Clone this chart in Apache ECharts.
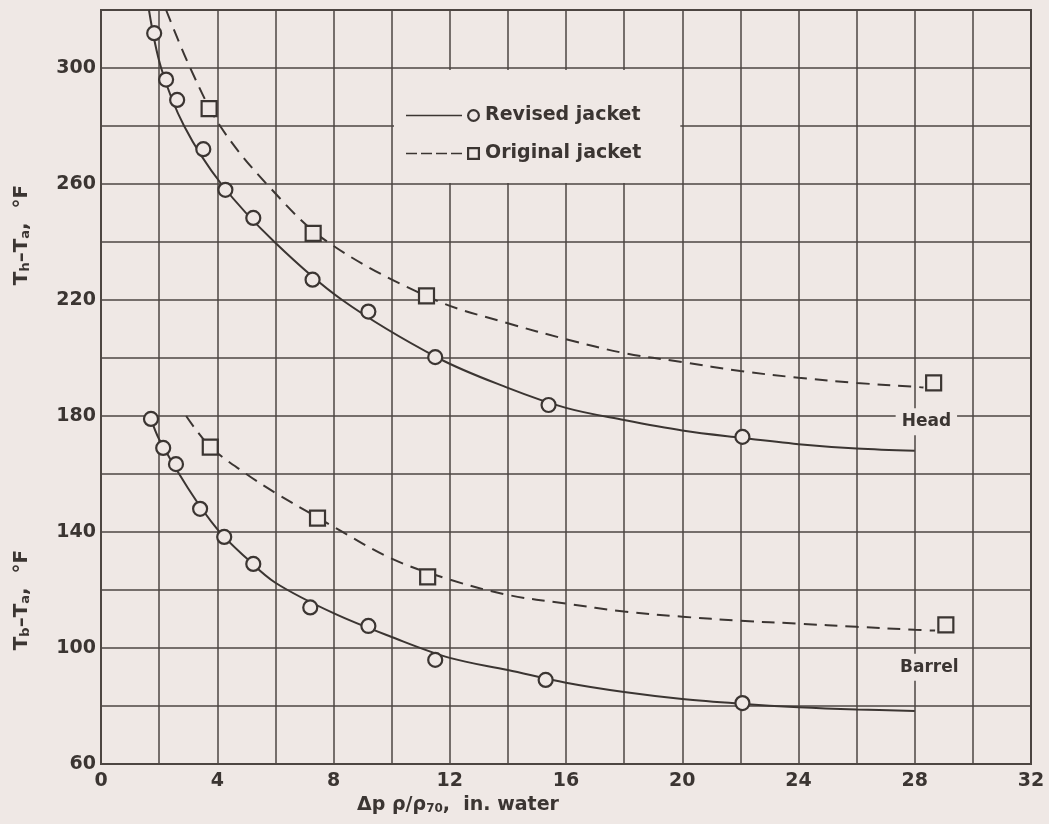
<!DOCTYPE html>
<html><head><meta charset="utf-8">
<script src="https://cdn.jsdelivr.net/npm/echarts@6/dist/echarts.min.js"></script>
<style>html,body{margin:0;padding:0;background:#efe8e5}#c{width:1049px;height:824px}</style>
</head><body><div id="c"></div>
<script>
// ---- data ----
const xTicks = [0, 4, 8, 12, 16, 20, 24, 28, 32];
const yTicks = [60, 100, 140, 180, 220, 260, 300];

// measured points (x = Δp ρ/ρ70, in. water ; y = temperature difference, °F)
const headRevisedPts = [[1.83,312],[2.24,296],[2.62,289],[3.52,272],[4.28,258],[5.24,248.3],[7.28,227],[9.2,216],[11.5,200.3],[15.4,183.8],[22.07,172.8]];
const headOriginalPts = [[3.72,286],[7.3,243],[11.2,221.4],[28.65,191.4]];
const barrelRevisedPts = [[1.72,179],[2.14,169],[2.58,163.4],[3.41,148],[4.24,138.3],[5.24,129],[7.2,114],[9.2,107.6],[11.5,95.9],[15.3,89],[22.07,81]];
const barrelOriginalPts = [[3.76,169.3],[7.45,144.8],[11.24,124.5],[29.07,108]];

// faired curves
const headRevisedCurve = [[1.65,320],[2.07,300],[2.86,280],[4.14,260],[5.97,240],[8.3,220],[11.6,200],[14,189.7],[16,182.8],[18,178.6],[20,175],[22,172.5],[24,170.3],[26,168.8],[28,168]];
const headOriginalCurve = [[2.24,320],[3.07,300],[4.1,280],[5.7,260],[7.8,240],[11.5,220],[14,212],[16,206.5],[18,201.7],[20,198.6],[22,195.5],[24,193.2],[26,191.4],[28,190.1],[28.3,189.8]];
const barrelRevisedCurve = [[1.72,179],[2,172],[3,155],[4,141],[5,131],[6,122.5],[8,112],[10,103.8],[12,96.6],[14,92.4],[16,88],[18,84.8],[20,82.4],[22,80.8],[24,79.6],[26,78.8],[28,78.3]];
const barrelOriginalCurve = [[2.93,180],[3.75,169.5],[5,160],[6,153.5],[7.45,145],[8,141.8],[10,130.8],[12,123.6],[14,118.3],[16,115.3],[18,112.6],[20,110.8],[22,109.4],[24,108.4],[26,107.3],[28,106.3],[28.7,106]];

const curveLabels = [{name:'Head', value:[28.4,178]}, {name:'Barrel', value:[28.5,93.4]}];
const seriesNames = ['Revised jacket', 'Original jacket'];

// ---- styling ----
const PAPER = '#efe8e5';
const INK = '#3b3532';
const GRID = '#4d4642';
const FONT = "'DejaVu Sans', sans-serif";

const revisedIcon = 'path://M0,5.7L56,5.7L56,7.3L0,7.3Z M67.5,0A6.5,6.5,0,1,1,67.49,0Z M67.5,2.2A4.3,4.3,0,1,0,67.51,2.2Z';
const originalIcon = 'path://M0,5.7h11v1.6h-11Z M15,5.7h11v1.6h-11Z M30,5.7h11v1.6h-11Z M45,5.7h11v1.6h-11Z M61,0h13v13h-13Z M63.2,2.2v8.6h8.6v-8.6Z';

const chart = echarts.init(document.getElementById('c'), null, {renderer:'canvas'});

function curve(name, data, dashed) {
  return {
    name, type:'line', data, smooth:0.35, showSymbol:false, symbol:'none', silent:true, z:3,
    lineStyle:{color:INK, width:2, type: dashed ? [13, 8] : 'solid'},
    itemStyle:{color:INK}
  };
}
function pts(name, data, symbol, size) {
  return {
    name, type:'scatter', data, symbol, symbolSize:size, silent:true, z:5,
    itemStyle:{color:PAPER, borderColor:INK, borderWidth:2.2, opacity:1}
  };
}

const option = {
  backgroundColor: PAPER,
  animation:false,
  grid:{left:101, right:18, top:10, bottom:60, show:true, borderColor:GRID, borderWidth:2, backgroundColor:'transparent'},
  xAxis:{
    type:'value', min:0, max:32, interval:2,
    axisLine:{show:true, lineStyle:{color:GRID, width:2}},
    axisTick:{show:false},
    splitLine:{show:true, lineStyle:{color:GRID, width:1.5}},
    axisLabel:{margin:8, color:INK, fontFamily:FONT, fontWeight:'bold', fontSize:19,
      formatter: v => xTicks.includes(v) ? String(v) : ''}
  },
  yAxis:{
    type:'value', min:60, max:320, interval:20,
    axisLine:{show:true, lineStyle:{color:GRID, width:2}},
    axisTick:{show:false},
    splitLine:{show:true, lineStyle:{color:GRID, width:1.5}},
    axisLabel:{margin:5, color:INK, fontFamily:FONT, fontWeight:'bold', fontSize:19,
      formatter: v => yTicks.includes(v) ? String(v) : ''}
  },
  legend:{
    orient:'vertical', left:394, top:70, selectedMode:false,
    padding:[36, 39, 20, 12], itemGap:19,
    itemWidth:74, itemHeight:13, symbolKeepAspect:false,
    backgroundColor:PAPER,
    itemStyle:{color:INK, borderWidth:0},
    textStyle:{color:INK, fontFamily:FONT, fontWeight:'bold', fontSize:19},
    data:[
      {name:seriesNames[0], icon:revisedIcon},
      {name:seriesNames[1], icon:originalIcon}
    ]
  },
  graphic:[
    {type:'text', x:22, y:235, rotation:Math.PI/2, z:10,
      style:{text:'T{s|h}–T{s|a},  °F', fill:INK, font:"bold 20px 'DejaVu Sans'", align:'center', verticalAlign:'middle',
        rich:{s:{fontSize:13, fontWeight:'bold', fontFamily:'DejaVu Sans', fill:INK, lineHeight:14, verticalAlign:'bottom'}}}},
    {type:'text', x:22, y:600, rotation:Math.PI/2, z:10,
      style:{text:'T{s|b}–T{s|a},  °F', fill:INK, font:"bold 20px 'DejaVu Sans'", align:'center', verticalAlign:'middle',
        rich:{s:{fontSize:13, fontWeight:'bold', fontFamily:'DejaVu Sans', fill:INK, lineHeight:14, verticalAlign:'bottom'}}}},
    {type:'text', x:458, y:805, z:10,
      style:{text:'Δp ρ/ρ{s|70},  in. water', fill:INK, font:"bold 19px 'DejaVu Sans'", align:'center', verticalAlign:'middle',
        rich:{s:{fontSize:12, fontWeight:'bold', fontFamily:'DejaVu Sans', fill:INK, lineHeight:13, verticalAlign:'bottom'}}}}
  ],
  series:[
    curve(seriesNames[0], headRevisedCurve, false),
    curve(seriesNames[0], barrelRevisedCurve, false),
    curve(seriesNames[1], headOriginalCurve, true),
    curve(seriesNames[1], barrelOriginalCurve, true),
    pts(seriesNames[0], headRevisedPts, 'circle', 14),
    pts(seriesNames[0], barrelRevisedPts, 'circle', 14),
    pts(seriesNames[1], headOriginalPts, 'rect', 15),
    pts(seriesNames[1], barrelOriginalPts, 'rect', 15),
    {
      name:'labels', type:'scatter', data:curveLabels, symbolSize:0, silent:true, z:6,
      itemStyle:{opacity:1, color:INK},
      label:{show:true, position:'inside', formatter:'{b}', color:INK, opacity:1, fontFamily:FONT, fontWeight:'bold', fontSize:17,
        backgroundColor:PAPER, padding:[5,6]}
    }
  ]
};
chart.setOption(option);
</script></body></html>
